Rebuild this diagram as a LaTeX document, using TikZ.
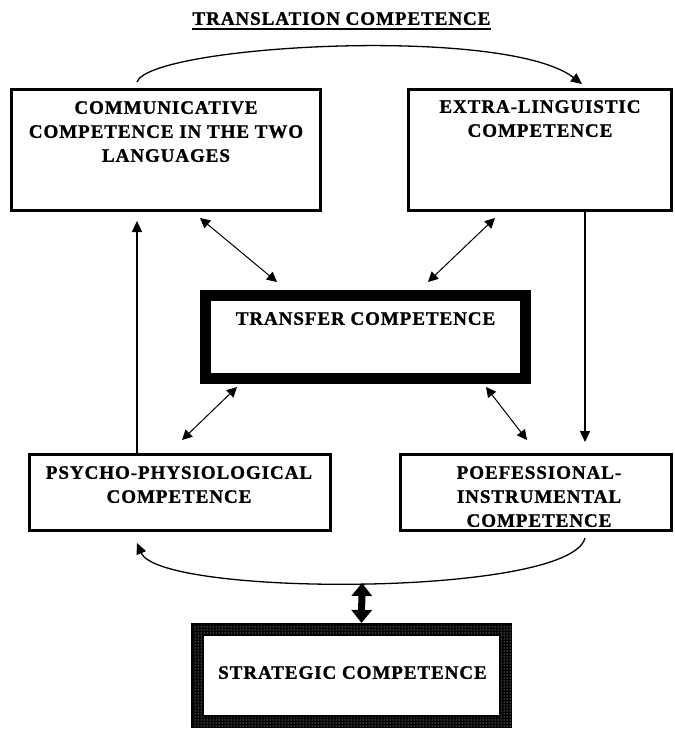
\documentclass[tikz,border=0pt]{standalone}
\usepackage{fontspec}
\setmainfont{Liberation Serif}
\newfontfamily\boxfont{Liberation Serif}[LetterSpace=5,BoldFeatures={FakeBold=1.2}]
\usetikzlibrary{arrows.meta,calc,patterns}
\begin{document}
\begin{tikzpicture}[x=1pt,y=-1pt,
  box/.style={draw,line width=3pt,inner sep=0pt,outer sep=0pt},
  txt/.style={font=\boxfont\bfseries\fontsize{19}{24}\selectfont,align=center,anchor=north,inner sep=0pt},
  dbl/.style={line width=1pt,{Triangle[width=10pt,length=10pt]}-{Triangle[width=10pt,length=10pt]}},
  one/.style={line width=1.3pt,-{Triangle[width=10pt,length=11pt]}},
  big/.style={line width=7pt,{Triangle[width=20pt,length=13pt]}-{Triangle[width=20pt,length=13pt]}}]
\fill[white] (0,0) rectangle (675,729);
\useasboundingbox (0,0) rectangle (675,729);

% title
\node[txt] (title) at (341.5,12) {TRANSLATION COMPETENCE};
\draw[line width=1.6pt] ($(title.base west)+(0,4)$) -- ($(title.base east)+(0,4)$);

% boxes
\node[box,minimum width=309pt,minimum height=121pt] (comm) at (166,150) {};
\node[box,minimum width=263pt,minimum height=121pt] (extra) at (540,150) {};
\node[draw,line width=11pt,inner sep=0pt,outer sep=0pt,minimum width=320pt,minimum height=83pt] (transfer) at (365.5,337) {};
\node[box,minimum width=301pt,minimum height=76pt] (psycho) at (180,492.5) {};
\node[box,minimum width=271pt,minimum height=76pt] (poef) at (536,492.5) {};
\node[inner sep=0pt,outer sep=0pt,minimum width=321pt,minimum height=105pt] (strat) at (351.5,675.5) {};

% strategic border (dotted frame)
\fill[black] (strat.north west) rectangle (strat.south east);
\fill[pattern=dots,pattern color=white] (strat.north west) rectangle (strat.south east);
\fill[white] ($(strat.north west)+(12,12)$) rectangle ($(strat.south east)+(-12,-12)$);
\draw[line width=1.5pt] ($(strat.north west)+(0.75,0.75)$) rectangle ($(strat.south east)+(-0.75,-0.75)$);
\draw[line width=1.5pt] ($(strat.north west)+(12,12)$) rectangle ($(strat.south east)+(-12,-12)$);

% texts
\node[txt] at (166,101) {COMMUNICATIVE\\COMPETENCE IN THE TWO\\LANGUAGES};
\node[txt] at (540,100) {EXTRA-LINGUISTIC\\COMPETENCE};
\node[txt] at (365.5,312) {TRANSFER COMPETENCE};
\node[txt] at (179,466) {PSYCHO-PHYSIOLOGICAL\\COMPETENCE};
\node[txt] at (539,466) {POEFESSIONAL-\\INSTRUMENTAL\\COMPETENCE};
\node[txt] at (352.5,666) {STRATEGIC COMPETENCE};

% connectors
\draw[one] ($(comm.north west)+(125.5,-7.5)$) .. controls (150,45) and (505,25) .. ($(extra.north west)+(173.5,-5.5)$);
\draw[one] ($(psycho.north west)+(107.5,0)$) -- ($(comm.south west)+(125.5,10.5)$);
\draw[one] ($(extra.south west)+(176.5,0)$) -- ($(poef.north west)+(184.5,-12.5)$);
\draw[dbl] ($(comm.south west)+(188.5,7.5)$) -- ($(transfer.north west)+(71.5,-13.5)$);
\draw[dbl] ($(extra.south west)+(86.5,7.5)$) -- ($(transfer.north west)+(222.5,-13.5)$);
\draw[dbl] ($(transfer.south west)+(31.5,8.5)$) -- ($(psycho.north west)+(152.5,-14.5)$);
\draw[dbl] ($(transfer.south west)+(280.5,8.5)$) -- ($(poef.north west)+(126.5,-14.5)$);
\draw[one] ($(poef.south west)+(184.5,7.5)$) .. controls (570,597) and (160,597) .. ($(psycho.south west)+(107.5,12.5)$);
\coordinate (arcbot) at (362,583);
\draw[big] (arcbot) -- ($(strat.north west)+(170.5,0)$);
\end{tikzpicture}
\end{document}
